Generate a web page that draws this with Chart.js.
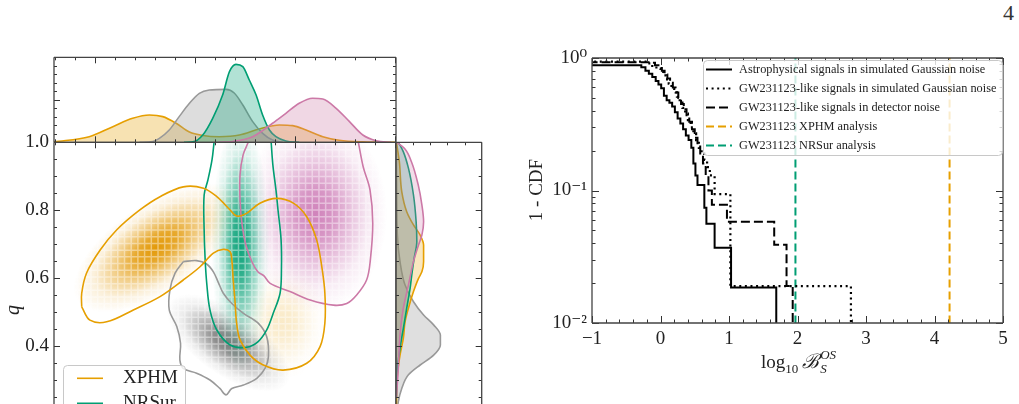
<!DOCTYPE html>
<html>
<head>
<meta charset="utf-8">
<script src="https://cdn.jsdelivr.net/npm/chart.js@4.4.0/dist/chart.umd.min.js"></script>
<style>
  html, body { margin: 0; padding: 0; background: #fff; width: 1019px; height: 404px; overflow: hidden; position: relative; }
  canvas { position: absolute; }
  #page { position: absolute; left: 1003px; top: 2px; font: 22px/22px "Liberation Serif", serif; color: #333; }
</style>
</head>
<body>
<div id="page">4</div>
<canvas id="topKde" width="500" height="110" style="left:0;top:40px"></canvas>
<canvas id="joint" width="400" height="330" style="left:0;top:120px"></canvas>
<canvas id="sideKde" width="100" height="300" style="left:390px;top:120px"></canvas>
<canvas id="cdf" width="504" height="364" style="left:515px;top:40px"></canvas>
<script>
// right panel: 1 - CDF of log10 Bayes factor
const astroX = [-1.05, -0.28, -0.22, -0.17, -0.12, -0.07, -0.03, 0.01, 0.05, 0.09, 0.13, 0.17, 0.21, 0.25, 0.29, 0.33, 0.37, 0.41, 0.45, 0.48, 0.51, 0.54, 0.64, 0.67, 0.79, 1.03, 1.69]
const astroY = [0.88, 0.85, 0.80, 0.76, 0.72, 0.67, 0.63, 0.59, 0.52, 0.48, 0.46, 0.43, 0.39, 0.35, 0.32, 0.29, 0.26, 0.24, 0.21, 0.16, 0.13, 0.11, 0.074, 0.056, 0.037, 0.0185, 0.008]
const simX = [-1.05, -0.2, -0.12, -0.06, 0.0, 0.04, 0.08, 0.12, 0.16, 0.2, 0.24, 0.28, 0.32, 0.36, 0.4, 0.44, 0.48, 0.52, 0.56, 0.6, 0.64, 0.68, 0.72, 0.79, 1.02, 2.78]
const simY = [0.94, 0.91, 0.87, 0.83, 0.79, 0.74, 0.69, 0.64, 0.59, 0.55, 0.51, 0.46, 0.42, 0.38, 0.34, 0.30, 0.27, 0.24, 0.21, 0.19, 0.17, 0.15, 0.13, 0.094, 0.019, 0.008]
const detX = [-1.05, -0.15, -0.08, -0.03, 0.02, 0.06, 0.1, 0.14, 0.18, 0.22, 0.26, 0.3, 0.34, 0.38, 0.42, 0.46, 0.5, 0.54, 0.58, 0.62, 0.66, 0.7, 0.75, 0.97, 1.66, 1.84, 1.93]
const detY = [0.93, 0.92, 0.88, 0.84, 0.80, 0.75, 0.70, 0.65, 0.60, 0.55, 0.50, 0.45, 0.41, 0.37, 0.33, 0.29, 0.25, 0.22, 0.19, 0.16, 0.13, 0.10, 0.078, 0.058, 0.039, 0.019, 0.008]
const xphmBF = 4.22
const nrsurBF = 1.97
const bfTicks = [-1, 0, 1, 2, 3, 4, 5]
const cdfTicks = [0.01, 0.1, 1]
const cdfTickLabels = ['10\u207B\u00B2', '10\u207B\u00B9', '10\u2070']

// left panel: marginals of x (top) and q (side), [value, density]
const topXphm = [[0.0, 0.005], [0.103, 0.066], [0.172, 0.184], [0.230, 0.282], [0.279, 0.321], [0.318, 0.302], [0.357, 0.224], [0.396, 0.12], [0.435, 0.08], [0.484, 0.066], [0.542, 0.085], [0.600, 0.156], [0.659, 0.204], [0.698, 0.196], [0.737, 0.145], [0.786, 0.066], [0.834, 0.024], [0.903, 0.005], [1.0, 0.0]]
const topNrsur = [[0.38, 0.0], [0.406, 0.005], [0.435, 0.086], [0.464, 0.282], [0.493, 0.556], [0.513, 0.831], [0.532, 0.917], [0.552, 0.890], [0.571, 0.733], [0.591, 0.556], [0.610, 0.321], [0.630, 0.145], [0.649, 0.066], [0.678, 0.015], [0.717, 0.0]]
const topGrey = [[0.25, 0.0], [0.289, 0.01], [0.308, 0.047], [0.337, 0.145], [0.366, 0.302], [0.396, 0.459], [0.425, 0.576], [0.454, 0.615], [0.503, 0.623], [0.527, 0.58], [0.552, 0.439], [0.581, 0.243], [0.610, 0.106], [0.639, 0.027], [0.669, 0.0]]
const topPink = [[0.48, 0.0], [0.522, 0.01], [0.581, 0.066], [0.639, 0.224], [0.678, 0.341], [0.717, 0.459], [0.756, 0.518], [0.786, 0.509], [0.825, 0.400], [0.864, 0.243], [0.903, 0.086], [0.942, 0.019], [0.986, 0.0]]

// [density, q]
const sideXphm = [[0.004, 0.22], [0.016, 0.316], [0.047, 0.374], [0.086, 0.424], [0.106, 0.472], [0.145, 0.512], [0.204, 0.561], [0.263, 0.600], [0.302, 0.619], [0.322, 0.649], [0.322, 0.698], [0.282, 0.727], [0.204, 0.757], [0.125, 0.796], [0.067, 0.855], [0.039, 0.943], [0.005, 1.0]]
const sideNrsur = [[0.004, 0.25], [0.016, 0.335], [0.047, 0.394], [0.086, 0.453], [0.125, 0.512], [0.165, 0.571], [0.184, 0.610], [0.212, 0.659], [0.243, 0.708], [0.235, 0.766], [0.204, 0.845], [0.145, 0.924], [0.086, 0.972], [0.027, 1.0]]
const sideGrey = [[0.01, 0.2], [0.027, 0.237], [0.067, 0.276], [0.145, 0.316], [0.282, 0.345], [0.439, 0.374], [0.518, 0.404], [0.518, 0.433], [0.439, 0.463], [0.322, 0.492], [0.204, 0.531], [0.106, 0.580], [0.047, 0.649], [0.016, 0.727], [0.008, 0.85], [0.004, 1.0]]
const sidePink = [[0.005, 0.25], [0.027, 0.335], [0.047, 0.433], [0.086, 0.512], [0.145, 0.580], [0.204, 0.649], [0.263, 0.698], [0.302, 0.727], [0.322, 0.766], [0.302, 0.816], [0.26, 0.874], [0.18, 0.943], [0.10, 0.982], [0.01, 1.0]]

// 90% contours in the (x, q) plane
const contourXphm = [[0.081, 0.516], [0.081, 0.556], [0.095, 0.615], [0.135, 0.683], [0.183, 0.742], [0.251, 0.801], [0.310, 0.840], [0.378, 0.869], [0.437, 0.865], [0.476, 0.840], [0.515, 0.801], [0.534, 0.783], [0.563, 0.791], [0.602, 0.821], [0.651, 0.835], [0.700, 0.821], [0.739, 0.781], [0.768, 0.713], [0.783, 0.634], [0.792, 0.556], [0.792, 0.468], [0.778, 0.399], [0.739, 0.350], [0.670, 0.330], [0.612, 0.345], [0.573, 0.374], [0.544, 0.419], [0.534, 0.468], [0.529, 0.536], [0.524, 0.595], [0.520, 0.654], [0.515, 0.678], [0.495, 0.685], [0.466, 0.674], [0.427, 0.634], [0.378, 0.595], [0.310, 0.546], [0.232, 0.507], [0.154, 0.472], [0.105, 0.477], [0.081, 0.516]]
const contourNrsur = [[0.468, 1.0], [0.462, 0.948], [0.450, 0.889], [0.439, 0.845], [0.439, 0.742], [0.442, 0.654], [0.447, 0.581], [0.456, 0.507], [0.476, 0.448], [0.515, 0.404], [0.563, 0.397], [0.597, 0.414], [0.622, 0.448], [0.641, 0.497], [0.661, 0.556], [0.665, 0.624], [0.664, 0.713], [0.655, 0.801], [0.649, 0.860], [0.640, 0.933], [0.635, 1.0]]
const contourGrey = [[0.378, 0.649], [0.417, 0.652], [0.446, 0.642], [0.466, 0.619], [0.480, 0.589], [0.495, 0.556], [0.520, 0.526], [0.554, 0.497], [0.597, 0.468], [0.622, 0.428], [0.627, 0.369], [0.617, 0.335], [0.593, 0.306], [0.554, 0.286], [0.520, 0.276], [0.503, 0.257], [0.485, 0.276], [0.456, 0.301], [0.417, 0.321], [0.378, 0.335], [0.368, 0.360], [0.370, 0.409], [0.359, 0.458], [0.337, 0.507], [0.339, 0.566], [0.354, 0.615], [0.378, 0.649]]
const contourPink = [[0.568, 1.0], [0.553, 0.963], [0.544, 0.904], [0.544, 0.830], [0.550, 0.757], [0.561, 0.698], [0.579, 0.648], [0.596, 0.619], [0.614, 0.607], [0.632, 0.585], [0.690, 0.561], [0.749, 0.536], [0.817, 0.521], [0.856, 0.526], [0.885, 0.551], [0.914, 0.595], [0.925, 0.654], [0.932, 0.762], [0.924, 0.860], [0.904, 0.928], [0.890, 1.0]]

// density peaks of the 2D histograms
const peakU = [0.30, 0.67, 0.51, 0.765, 0.545]
const peakQ = [0.69, 0.47, 0.41, 0.79, 0.70]

const SERIF = '"Liberation Serif", "DejaVu Serif", serif'
const ORANGE = '#E69F00', GREEN = '#009E73', PINK = '#CC79A7', GREY = '#999999'

const peakStyle = [
  { ru: 0.28, rq: 0.13, ang: -34, rgb: '226,150,0', a: 0.97 },
  { ru: 0.13, rq: 0.17, ang: 0, rgb: '230,159,0', a: 0.22 },
  { ru: 0.21, rq: 0.095, ang: 35, rgb: '110,110,110', a: 0.9 },
  { ru: 0.21, rq: 0.29, ang: 0, rgb: '200,110,175', a: 0.85 },
  { ru: 0.085, rq: 0.37, ang: 0, rgb: '0,158,115', a: 0.95 }
]

const pairs = (arr) => arr.map(([a, b]) => ({ x: a, y: b }))
const zip = (xs, ys) => xs.map((x, i) => ({ x: x, y: ys[i] }))
const range = (a, b, s) => { const out = []; for (let v = a; v <= b + 1e-9; v += s) out.push(+v.toFixed(5)); return out }

const xMajorLeft = [0.1199, 0.4123, 0.7047, 0.9971]
const xMinorLeft = range(0.0029, 1, 0.05848)

const frameTicks = {
  id: 'frameTicks',
  afterDraw(chart, args, o) {
    const { ctx, chartArea: a, scales } = chart
    const sx = scales.x, sy = scales.y
    ctx.save()
    ctx.strokeStyle = '#333'
    ctx.lineWidth = 1
    ctx.beginPath()
    const xt = (vals, len) => vals.forEach(v => {
      const p = Math.round(sx.getPixelForValue(v)) + 0.5
      if (p < a.left - 0.5 || p > a.right + 0.5) return
      if (o.xs.includes('b')) { ctx.moveTo(p, a.bottom); ctx.lineTo(p, a.bottom - len) }
      if (o.xs.includes('t')) { ctx.moveTo(p, a.top); ctx.lineTo(p, a.top + len) }
    })
    const yt = (vals, len) => vals.forEach(v => {
      const p = Math.round(sy.getPixelForValue(v)) + 0.5
      if (p < a.top - 0.5 || p > a.bottom + 0.5) return
      if (o.ys.includes('l')) { ctx.moveTo(a.left, p); ctx.lineTo(a.left + len, p) }
      if (o.ys.includes('r')) { ctx.moveTo(a.right, p); ctx.lineTo(a.right - len, p) }
    })
    xt(o.xMajor, o.len[0]); xt(o.xMinor, o.len[1])
    yt(o.yMajor, o.len[0]); yt(o.yMinor, o.len[1])
    ctx.stroke()
    ctx.strokeStyle = '#444'
    ctx.lineWidth = 1.3
    ctx.beginPath()
    if (o.frame.includes('t')) { ctx.moveTo(a.left, a.top); ctx.lineTo(a.right, a.top) }
    if (o.frame.includes('b')) { ctx.moveTo(a.left, a.bottom); ctx.lineTo(a.right, a.bottom) }
    if (o.frame.includes('l')) { ctx.moveTo(a.left, a.top); ctx.lineTo(a.left, a.bottom) }
    if (o.frame.includes('r')) { ctx.moveTo(a.right, a.top); ctx.lineTo(a.right, a.bottom) }
    ctx.stroke()
    ctx.restore()
  }
}

const boxLegend = {
  id: 'boxLegend',
  afterDraw(chart, args, o) {
    const { ctx } = chart
    ctx.save()
    ctx.beginPath()
    ctx.roundRect(o.box[0], o.box[1], o.box[2], o.box[3], 4)
    ctx.fillStyle = 'rgba(255,255,255,0.8)'
    ctx.fill()
    ctx.strokeStyle = '#c8c8c8'
    ctx.lineWidth = 1
    ctx.stroke()
    ctx.font = o.font
    ctx.textBaseline = 'middle'
    o.items.forEach((idx, i) => {
      const ds = chart.data.datasets[idx]
      const y = o.rowY + i * o.rowH
      ctx.strokeStyle = ds.borderColor
      ctx.lineWidth = ds.borderWidth
      ctx.setLineDash(ds.borderDash || [])
      ctx.beginPath()
      ctx.moveTo(o.line[0], y)
      ctx.lineTo(o.line[1], y)
      ctx.stroke()
      ctx.setLineDash([])
      ctx.fillStyle = '#222'
      ctx.fillText(ds.label, o.textX, y)
    })
    ctx.restore()
  }
}

const densityShade = {
  id: 'densityShade',
  beforeDraw(chart) {
    const { ctx, chartArea: a, scales: { x, y } } = chart
    ctx.save()
    ctx.beginPath()
    ctx.rect(a.left, a.top, a.right - a.left, a.bottom - a.top)
    ctx.clip()
    peakU.forEach((u, i) => {
      const s = peakStyle[i]
      const cx = x.getPixelForValue(u), cy = y.getPixelForValue(peakQ[i])
      const rx = Math.abs(x.getPixelForValue(u + s.ru) - cx)
      const ry = Math.abs(y.getPixelForValue(peakQ[i] + s.rq) - cy)
      ctx.save()
      ctx.translate(cx, cy)
      ctx.rotate(s.ang * Math.PI / 180)
      ctx.scale(rx, ry)
      const g = ctx.createRadialGradient(0, 0, 0, 0, 0, 1)
      ;[[0, 1], [0.25, 0.85], [0.5, 0.48], [0.75, 0.15], [1, 0]].forEach(([t, k]) => g.addColorStop(t, 'rgba(' + s.rgb + ',' + (s.a * k) + ')'))
      ctx.fillStyle = g
      ctx.beginPath()
      ctx.arc(0, 0, 1, 0, Math.PI * 2)
      ctx.fill()
      ctx.restore()
    })
    // cell edges of the histogram image
    ctx.strokeStyle = 'rgba(255,255,255,0.42)'
    ctx.lineWidth = 1.5
    ctx.beginPath()
    for (let u = 0.01; u < 1; u += 1 / 51) { const p = x.getPixelForValue(u); ctx.moveTo(p, a.top); ctx.lineTo(p, a.bottom) }
    for (let q = 0.21; q < 1; q += 0.0197) { const p = y.getPixelForValue(q); ctx.moveTo(a.left, p); ctx.lineTo(a.right, p) }
    ctx.stroke()
    ctx.restore()
  }
}

const hidden = { display: false }
const kdeSet = (data, color, fillA) => ({
  data: pairs(data), borderColor: color, borderWidth: 1.6, pointRadius: 0, fill: 'origin',
  backgroundColor: color + fillA, cubicInterpolationMode: 'monotone'
})

// top marginal
new Chart(document.getElementById('topKde'), {
  type: 'line',
  data: { datasets: [kdeSet(topPink, PINK, '4d'), kdeSet(topNrsur, GREEN, '4d'), kdeSet(topGrey, GREY, '55'), kdeSet(topXphm, ORANGE, '4d')] },
  options: {
    animation: false, responsive: false, events: [],
    layout: { padding: { left: 54, right: 104, top: 17.3, bottom: 7.7 } },
    plugins: {
      legend: hidden, tooltip: { enabled: false },
      frameTicks: { frame: 'tblr', xs: 'tb', ys: 'lr', xMajor: xMajorLeft, xMinor: xMinorLeft, yMajor: [0.5], yMinor: range(0.1, 1, 0.1), len: [6, 3] }
    },
    scales: {
      x: { type: 'linear', display: false, min: 0, max: 1 },
      y: { type: 'linear', display: false, min: 0, max: 1 }
    }
  },
  plugins: [frameTicks]
})

// joint (x, q) panel
new Chart(document.getElementById('joint'), {
  type: 'line',
  data: {
    datasets: [
      { label: 'XPHM', data: pairs(contourXphm), borderColor: ORANGE, borderWidth: 1.6, pointRadius: 0, tension: 0.35, fill: false },
      { label: 'NRSur', data: pairs(contourNrsur), borderColor: GREEN, borderWidth: 1.6, pointRadius: 0, tension: 0.35, fill: false },
      { data: pairs(contourPink), borderColor: PINK, borderWidth: 1.6, pointRadius: 0, tension: 0.35, fill: false },
      { data: pairs(contourGrey), borderColor: GREY, borderWidth: 1.6, pointRadius: 0, tension: 0.35, fill: false }
    ]
  },
  options: {
    animation: false, responsive: false, events: [],
    layout: { padding: { left: 0, right: 4, top: 22.3, bottom: 35.7 } },
    plugins: {
      legend: hidden, tooltip: { enabled: false },
      frameTicks: { frame: 'tlr', xs: 't', ys: 'l', xMajor: xMajorLeft, xMinor: xMinorLeft, yMajor: range(0.2, 1, 0.2), yMinor: range(0.2, 1, 0.05), len: [6, 3] },
      boxLegend: { box: [63.5, 245.5, 122, 80], items: [0, 1], rowY: 258.3, rowH: 25, line: [77, 103], textX: 123, font: '19px ' + SERIF }
    },
    scales: {
      x: { type: 'linear', display: false, min: 0, max: 1 },
      y: {
        type: 'linear', min: 0.2, max: 1.0,
        grid: { display: false, drawTicks: false }, border: { display: false },
        ticks: { stepSize: 0.2, padding: 5, color: '#222', font: { family: SERIF, size: 19 }, callback: v => v.toFixed(1) },
        afterFit: s => { s.width = 54 }
      }
    }
  },
  plugins: [densityShade, frameTicks, boxLegend, {
    id: 'qTitle',
    afterDraw(chart) {
      const ctx = chart.ctx
      ctx.save()
      ctx.translate(14, 190)
      ctx.rotate(-Math.PI / 2)
      ctx.font = 'italic 20px ' + SERIF
      ctx.fillStyle = '#222'
      ctx.textAlign = 'center'
      ctx.textBaseline = 'middle'
      ctx.fillText('q', 0, 0)
      ctx.restore()
    }
  }]
})

// side marginal of q
const sideSet = (data, color, fillA) => ({
  data: pairs(data), borderColor: color, borderWidth: 1.6, pointRadius: 0, fill: 'origin',
  backgroundColor: color + fillA, cubicInterpolationMode: 'monotone'
})
new Chart(document.getElementById('sideKde'), {
  type: 'line',
  data: { datasets: [sideSet(sidePink, PINK, '40'), sideSet(sideNrsur, GREEN, '40'), sideSet(sideXphm, ORANGE, '40'), sideSet(sideGrey, GREY, '50')] },
  options: {
    indexAxis: 'y',
    animation: false, responsive: false, events: [],
    layout: { padding: { left: 6, right: 8.3, top: 22.3, bottom: 5.7 } },
    plugins: {
      legend: hidden, tooltip: { enabled: false },
      frameTicks: { frame: 'tlr', xs: 't', ys: 'lr', xMajor: [], xMinor: range(0.2, 0.8, 0.2), yMajor: range(0.2, 1, 0.2), yMinor: range(0.2, 1, 0.05), len: [6, 3] }
    },
    scales: {
      x: { type: 'linear', display: false, min: 0, max: 1 },
      y: { type: 'linear', display: false, min: 0.2, max: 1.0 }
    }
  },
  plugins: [frameTicks]
})

// right panel
const cdfMinorY = [2, 3, 4, 5, 6, 7, 8, 9].map(k => k * 0.01).concat([2, 3, 4, 5, 6, 7, 8, 9].map(k => k * 0.1))
new Chart(document.getElementById('cdf'), {
  type: 'line',
  data: {
    datasets: [
      { label: 'Astrophysical signals in simulated Gaussian noise', data: zip(astroX, astroY), borderColor: '#000', borderWidth: 2, stepped: true, pointRadius: 0 },
      { label: 'GW231123-like signals in simulated Gaussian noise', data: zip(simX, simY), borderColor: '#000', borderWidth: 2.2, borderDash: [2, 3.6], stepped: true, pointRadius: 0 },
      { label: 'GW231123-like signals in detector noise', data: zip(detX, detY), borderColor: '#000', borderWidth: 2, borderDash: [9, 4], stepped: true, pointRadius: 0 },
      { label: 'GW231123 XPHM analysis', data: [{ x: xphmBF, y: 0.001 }, { x: xphmBF, y: 10 }], borderColor: ORANGE, borderWidth: 2, borderDash: [8, 4], pointRadius: 0 },
      { label: 'GW231123 NRSur analysis', data: [{ x: nrsurBF, y: 0.001 }, { x: nrsurBF, y: 10 }], borderColor: GREEN, borderWidth: 2, borderDash: [8, 4], pointRadius: 0 }
    ]
  },
  options: {
    animation: false, responsive: false, events: [],
    layout: { padding: { left: 0, right: 16, top: 18, bottom: 0 } },
    plugins: {
      legend: hidden, tooltip: { enabled: false },
      frameTicks: { frame: 'tblr', xs: 'tb', ys: 'lr', xMajor: bfTicks, xMinor: range(-1, 5, 0.2), yMajor: cdfTicks, yMinor: cdfMinorY, len: [7, 3.5] },
      boxLegend: { box: [188.5, 20.5, 299, 95], items: [0, 1, 2, 3, 4], rowY: 29.5, rowH: 19, line: [191, 217], textX: 224, font: '12.3px ' + SERIF }
    },
    scales: {
      x: {
        type: 'linear', min: -1, max: 5,
        grid: { display: false, drawTicks: false }, border: { display: false },
        afterBuildTicks: s => { s.ticks = bfTicks.map(v => ({ value: v })) },
        ticks: { padding: 5, color: '#222', font: { family: SERIF, size: 19 }, callback: v => v < 0 ? '\u2212' + (-v) : String(v) },
        afterFit: s => { s.height = 81 }
      },
      y: {
        type: 'logarithmic', min: 0.01, max: 1,
        grid: { display: false, drawTicks: false }, border: { display: false },
        afterBuildTicks: s => { s.ticks = cdfTicks.map(v => ({ value: v })) },
        ticks: { padding: 5, color: '#222', font: { family: SERIF, size: 19 }, callback: (v, i) => cdfTickLabels[i] },
        afterFit: s => { s.width = 77 }
      }
    }
  },
  plugins: [frameTicks, boxLegend, {
    id: 'cdfTitles',
    afterDraw(chart) {
      const ctx = chart.ctx
      ctx.save()
      ctx.fillStyle = '#222'
      ctx.textBaseline = 'alphabetic'
      const parts = [
        ['log', '19px ' + SERIF, 0],
        ['10', '13px ' + SERIF, 5],
        ['\u2009\u212C', 'italic 20px ' + SERIF, 0]
      ]
      let w = 0
      parts.forEach(p => { ctx.font = p[1]; w += ctx.measureText(p[0]).width })
      ctx.font = 'italic 13px ' + SERIF
      const supW = ctx.measureText('OS').width
      let x = 283 - (w + supW) / 2
      const base = 328
      parts.forEach(p => { ctx.font = p[1]; ctx.fillText(p[0], x, base + p[2]); x += ctx.measureText(p[0]).width })
      ctx.font = 'italic 13px ' + SERIF
      ctx.fillText('OS', x + 1, base - 9)
      ctx.fillText('S', x + 1, base + 5)
      ctx.translate(22, 150)
      ctx.rotate(-Math.PI / 2)
      ctx.font = '19px ' + SERIF
      ctx.textAlign = 'center'
      ctx.textBaseline = 'middle'
      ctx.fillText('1 - CDF', 0, 0)
      ctx.restore()
    }
  }]
})
</script>
</body>
</html>
